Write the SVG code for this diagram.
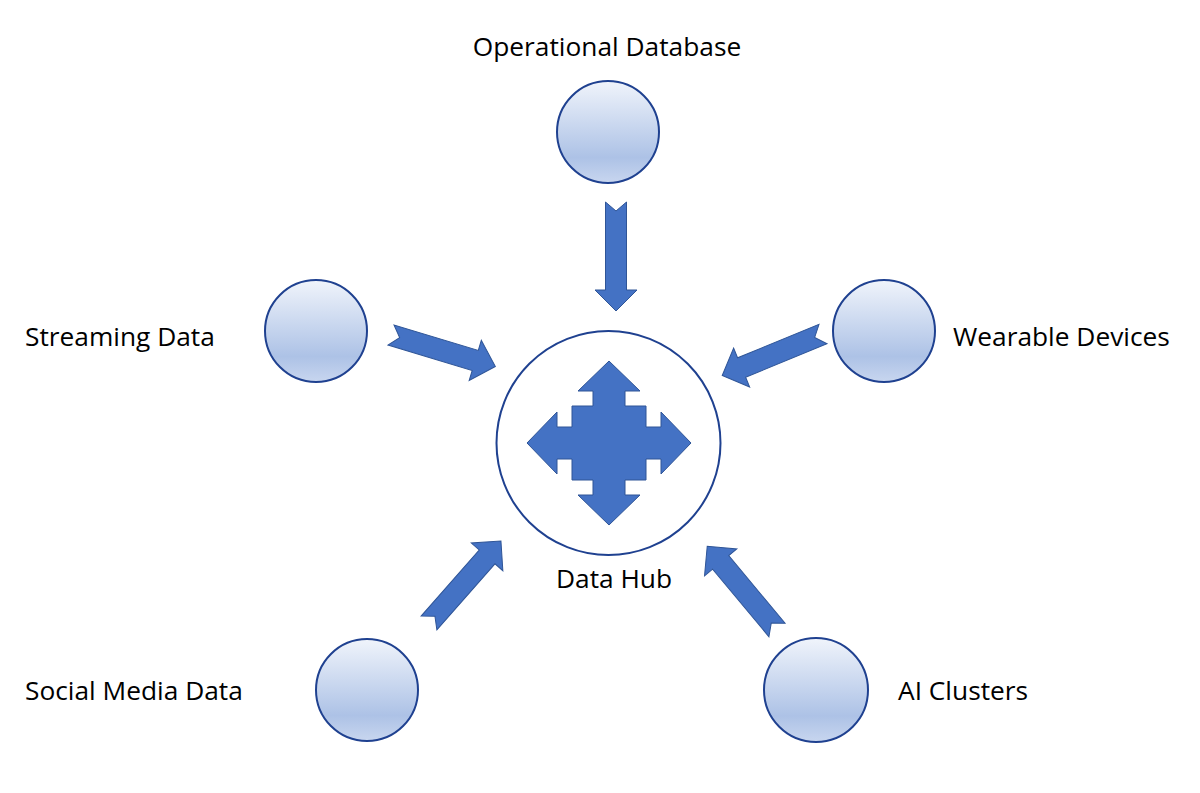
<svg xmlns="http://www.w3.org/2000/svg" width="1200" height="793" viewBox="0 0 1200 793">
<style>
.src{fill:url(#g);stroke:#1f4190;stroke-width:2}
.lbl{font-family:"Open Sans","Liberation Sans",sans-serif;font-size:26.3px;fill:#000}
.blk{fill:#4472c4;stroke:#2f5597;stroke-width:1}
</style>
<defs>
<linearGradient id="g" x1="0" y1="0" x2="0" y2="1">
<stop offset="0" stop-color="#f0f4fb"/>
<stop offset="0.75" stop-color="#adc2e6"/>
<stop offset="1" stop-color="#c8d6ef"/>
</linearGradient>
<path id="arr" d="M0,-10.5 L9,0 L0,10.5 L88,10.5 L88,21 L109,0 L88,-21 L88,-10.5 Z"/>
</defs>
<rect width="1200" height="793" fill="#fff"/>
<g id="hub">
<circle cx="608.5" cy="443" r="112" fill="#fff" stroke="#1f4190" stroke-width="2"/>
<path class="blk" transform="translate(609,443)" d="M0,-82 L31,-52 L16,-52 L16,-37 L37,-37 L37,-16 L52,-16 L52,-31 L82,0 L52,31 L52,16 L37,16 L37,37 L16,37 L16,52 L31,52 L0,82 L-31,52 L-16,52 L-16,37 L-37,37 L-37,16 L-52,16 L-52,31 L-82,0 L-52,-31 L-52,-16 L-37,-16 L-37,-37 L-16,-37 L-16,-52 L-31,-52 Z"/>
<text class="lbl" x="614" y="588" text-anchor="middle">Data Hub</text>
</g>
<g id="operational">
<circle class="src" cx="608" cy="132" r="51"/>
<text class="lbl" x="607" y="56" text-anchor="middle">Operational Database</text>
</g>
<g id="streaming">
<circle class="src" cx="316" cy="331" r="51"/>
<text class="lbl" x="25" y="346">Streaming Data</text>
</g>
<g id="wearable">
<circle class="src" cx="884" cy="331" r="51"/>
<text class="lbl" x="953" y="346">Wearable Devices</text>
</g>
<g id="social">
<circle class="src" cx="367" cy="690" r="51"/>
<text class="lbl" x="25" y="700">Social Media Data</text>
</g>
<g id="ai">
<circle class="src" cx="816" cy="690" r="52"/>
<text class="lbl" x="898" y="700">AI Clusters</text>
</g>
<g id="connectors" class="blk">
<use href="#arr" transform="translate(616,202) rotate(90)"/>
<use href="#arr" transform="translate(391,335) rotate(16.8)"/>
<use href="#arr" transform="translate(823,334) rotate(157.6)"/>
<use href="#arr" transform="translate(429,623) rotate(-48.7)"/>
<use href="#arr" transform="translate(777,630) rotate(230.2)"/>
</g>
</svg>
